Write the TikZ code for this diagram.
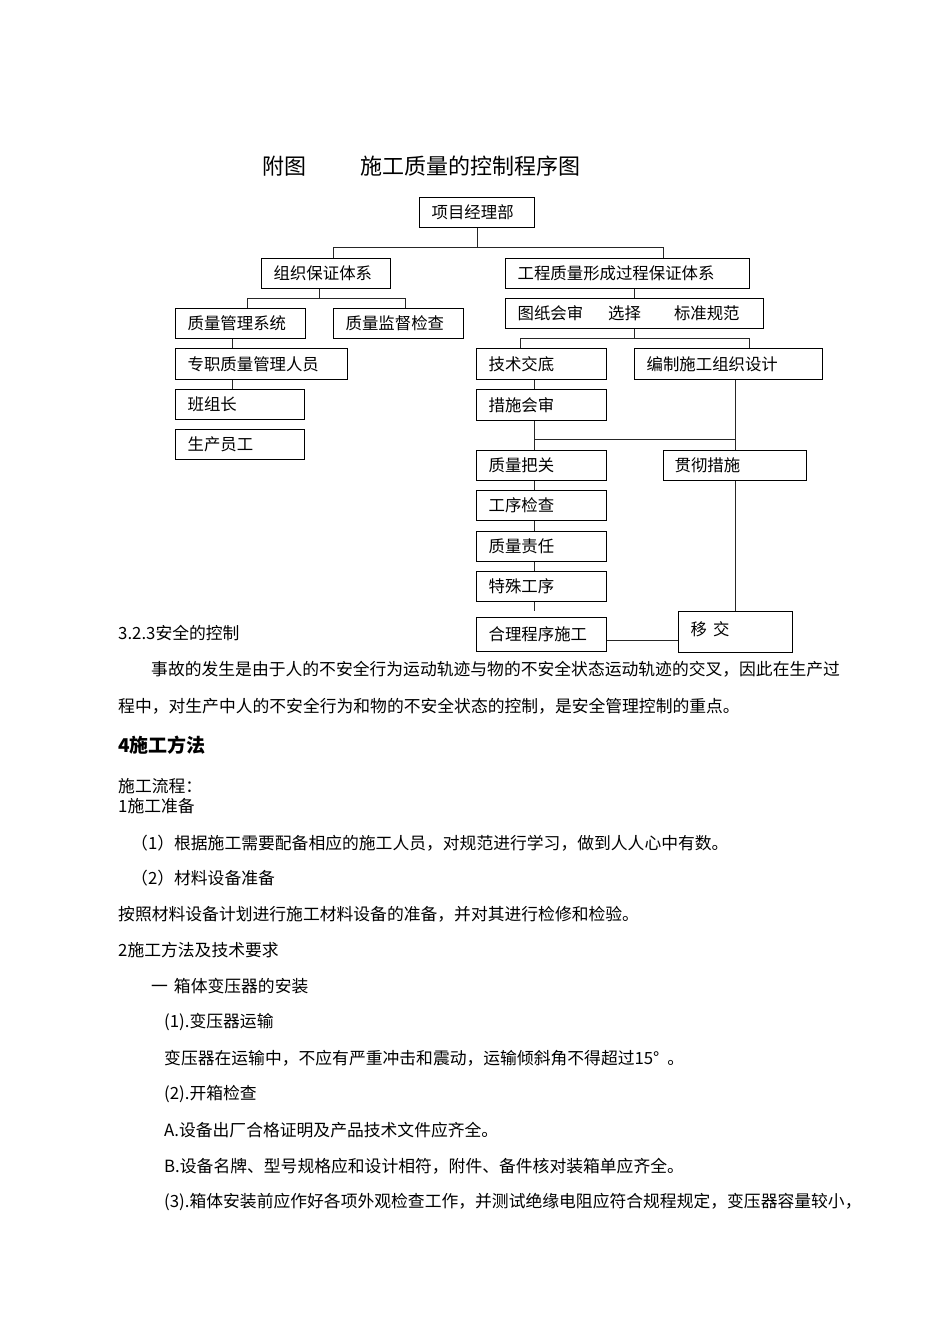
\documentclass[tikz,border=0pt]{standalone}
\usepackage{fontspec}
\setmainfont{Noto Sans CJK SC}
\begin{document}
\begin{tikzpicture}[x=1pt,y=-1pt,
  box/.style={draw, line width=1.3pt, anchor=north west, inner xsep=12pt, inner ysep=0pt,
              align=left, font=\fontsize{16.4}{18}\selectfont},
  conn/.style={line width=1pt, draw=black!85},
  body/.style={anchor=west, inner sep=0pt, font=\fontsize{16.8}{18}\selectfont},
  ttl/.style={anchor=west, inner sep=0pt, font=\fontsize{22}{24}\selectfont},
  head/.style={anchor=west, inner sep=0pt, font=\fontsize{19}{21}\selectfont\bfseries}]
\useasboundingbox (0,0) rectangle (950,1344);

% title
\node[ttl] (tA) at (262,166) {附图};
\node[ttl] (tB) at (360,166) {施工质量的控制程序图};

% boxes
\node[box, text width=91pt,  minimum height=30pt] (pm)   at (419,197) {项目经理部};
\node[box, text width=105pt, minimum height=30pt] (org)  at (261,258) {组织保证体系};
\node[box, text width=220pt, minimum height=30pt] (eng)  at (505,258) {工程质量形成过程保证体系};
\node[box, text width=106pt, minimum height=30pt] (qms)  at (175,308) {质量管理系统};
\node[box, text width=106pt, minimum height=30pt] (qsc)  at (333,308) {质量监督检查};
\node[box, text width=234pt, minimum height=30pt] (drw)  at (505,298) {图纸会审\hspace{25pt}选择\hspace{33pt}标准规范};
\node[box, text width=148pt, minimum height=31pt] (spec) at (175,348) {专职质量管理人员};
\node[box, text width=105pt, minimum height=30pt] (bzz)  at (175,389) {班组长};
\node[box, text width=105pt, minimum height=30pt] (scyg) at (175,429) {生产员工};
\node[box, text width=106pt, minimum height=31pt] (jsjd) at (476,348) {技术交底};
\node[box, text width=164pt, minimum height=31pt] (bzsg) at (634,348) {编制施工组织设计};
\node[box, text width=106pt, minimum height=31pt] (cshs) at (476,389) {措施会审};
\node[box, text width=106pt, minimum height=30pt] (zlbg) at (476,450) {质量把关};
\node[box, text width=121pt, minimum height=30pt, inner xsep=11pt] (gccs) at (663,450) {贯彻措施};
\node[box, text width=106pt, minimum height=30pt] (gxjc) at (476,490) {工序检查};
\node[box, text width=106pt, minimum height=30pt] (zlzr) at (476,530.7) {质量责任};
\node[box, text width=106pt, minimum height=30pt] (tsgx) at (476,570.7) {特殊工序};
\node[box, text width=106pt, minimum height=34pt] (hlcx) at (476,617) {合理程序施工};
\node[box, text width=90pt,  minimum height=41pt, text depth=8pt] (yj) at (678,611) {移\hspace{6pt}交};

% connector coordinates
\coordinate (t1) at (333,247);
\coordinate (t2) at (663,247);
\coordinate (ox) at (319,298);
\coordinate (o1) at (247,298);
\coordinate (o2) at (405,298);
\coordinate (sx) at (232.5,0);
\coordinate (dx) at (634,0);
\coordinate (d1) at (520,338);
\coordinate (d2) at (749,338);
\coordinate (cx) at (534,0);
\coordinate (rx) at (735,0);
\coordinate (m1) at (534,439.3);
\coordinate (m2) at (735,439.3);
\coordinate (stub) at (534,610.7);
\coordinate (hy) at (0,640);

% connectors
\draw[conn] (pm.south) -- (pm.south |- t1);
\draw[conn] (org.north -| t1) |- (t2) -- (eng.north -| t2);
\draw[conn] (org.south -| ox) -- (ox);
\draw[conn] (qms.north -| o1) |- (o2) -- (qsc.north -| o2);
\draw[conn] (qms.south -| sx) -- (spec.north -| sx);
\draw[conn] (spec.south -| sx) -- (bzz.north -| sx);
\draw[conn] (eng.south -| dx) -- (drw.north -| dx);
\draw[conn] (drw.south -| dx) -- (dx |- d1);
\draw[conn] (jsjd.north -| d1) |- (d2) -- (bzsg.north -| d2);
\draw[conn] (jsjd.south -| cx) -- (cshs.north -| cx);
\draw[conn] (cshs.south -| cx) -- (zlbg.north -| cx);
\draw[conn] (m1) -- (m2);
\draw[conn] (bzsg.south -| rx) -- (gccs.north -| rx);
\draw[conn] (zlbg.south -| cx) -- (gxjc.north -| cx);
\draw[conn] (gxjc.south -| cx) -- (zlzr.north -| cx);
\draw[conn] (zlzr.south -| cx) -- (tsgx.north -| cx);
\draw[conn] (tsgx.south -| cx) -- (stub);
\draw[conn] (gccs.south -| rx) -- (yj.north -| rx);
\draw[conn] (hlcx.east |- hy) -- (yj.west |- hy);

% body text
\node[body] (s1)  at (118,633)  {3.2.3安全的控制};
\node[body] (p1)  at (151,669)  {事故的发生是由于人的不安全行为运动轨迹与物的不安全状态运动轨迹的交叉，因此在生产过};
\node[body] (p2)  at (118,706)  {程中，对生产中人的不安全行为和物的不安全状态的控制，是安全管理控制的重点。};
\node[head] (h4)  at (118,745)  {4施工方法};
\node[body] (p3)  at (118,786)  {施工流程：};
\node[body] (p4)  at (118,806)  {1施工准备};
\node[body] (p5)  at (131,843)  {（1）根据施工需要配备相应的施工人员，对规范进行学习，做到人人心中有数。};
\node[body] (p6)  at (131,878)  {（2）材料设备准备};
\node[body] (p7)  at (118,914)  {按照材料设备计划进行施工材料设备的准备，并对其进行检修和检验。};
\node[body] (p8)  at (118,950)  {2施工方法及技术要求};
\node[body] (p9)  at (151,986)  {一\hspace{6pt}箱体变压器的安装};
\node[body] (p10) at (164,1022) {(1).变压器运输};
\node[body] (p11) at (164,1058) {变压器在运输中，不应有严重冲击和震动，运输倾斜角不得超过15°\hspace{8pt}。};
\node[body] (p12) at (164,1094) {(2).开箱检查};
\node[body] (p13) at (164,1130) {A.设备出厂合格证明及产品技术文件应齐全。};
\node[body] (p14) at (164,1166) {B.设备名牌、型号规格应和设计相符，附件、备件核对装箱单应齐全。};
\node[body] (p15) at (164,1202) {(3).箱体安装前应作好各项外观检查工作，并测试绝缘电阻应符合规程规定，变压器容量较小，};
\end{tikzpicture}
\end{document}
